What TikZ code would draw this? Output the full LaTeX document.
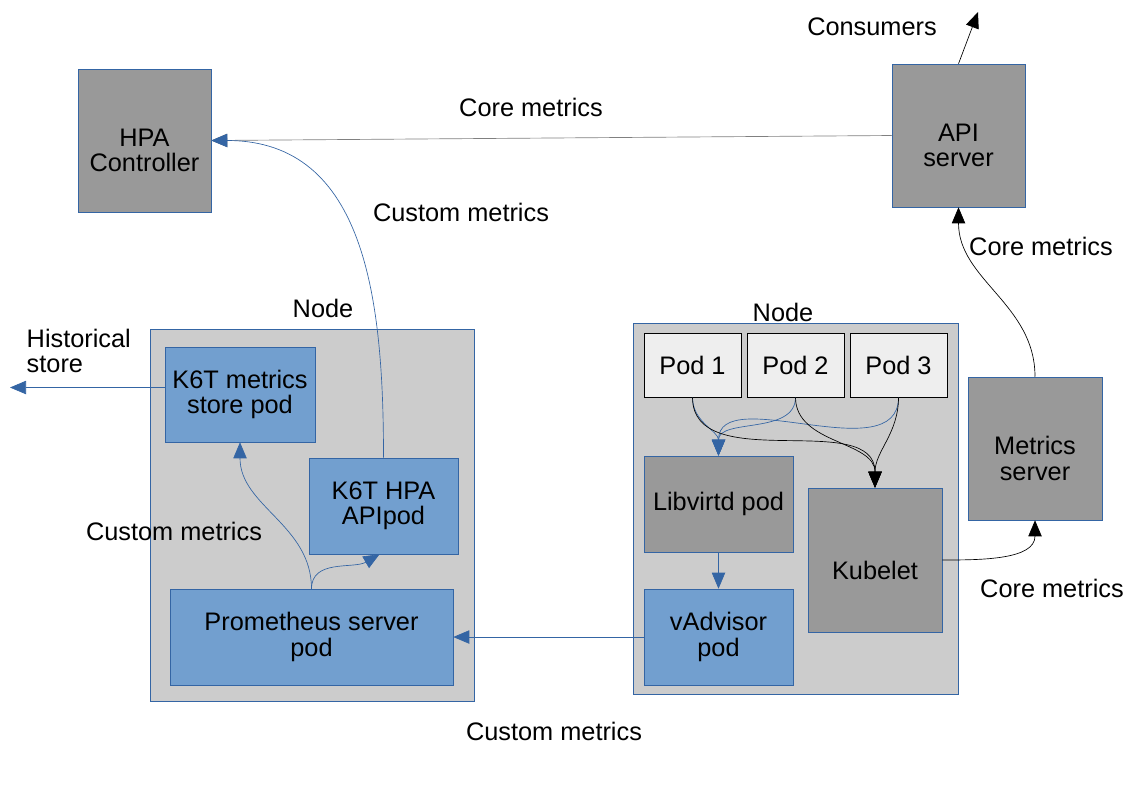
\documentclass[tikz,border=0pt]{standalone}
\usepackage{fontspec}
\setmainfont{Liberation Sans}
\usetikzlibrary{arrows.meta}
\definecolor{boxgray}{HTML}{999999}
\definecolor{nodegray}{HTML}{CCCCCC}
\definecolor{podfill}{HTML}{EEEEEE}
\definecolor{podblue}{HTML}{729FCF}
\definecolor{edgeblue}{HTML}{3465A4}

\begin{document}
\begin{tikzpicture}[x=0.75pt,y=-0.75pt,
    every node/.style={font=\fontsize{19}{19}\selectfont},
    graybox/.style={draw=edgeblue,fill=boxgray,align=center},
    bluebox/.style={draw=edgeblue,fill=podblue,align=center},
    nodebox/.style={draw=edgeblue,fill=nodegray},
    podbox/.style={draw=black,fill=podfill,minimum width=72.75pt,minimum height=48pt},
    boxtext/.style={align=center,yshift=-7.5pt},
    bluearrow/.style={draw=edgeblue,line width=0.5pt,-{Triangle[length=12pt,width=10pt]}},
    blackarrow/.style={draw=black,line width=0.5pt,-{Triangle[length=12pt,width=10pt]}}]
\useasboundingbox[fill=white] (0,0) rectangle (1123,794);

% the two nodes
\node[nodebox,minimum width=243pt,minimum height=279pt] (nodeL) at (312,515) {};
\node[nodebox,minimum width=243.75pt,minimum height=278.25pt] (nodeR) at (795.5,508.5) {};
\node (nodeLlabel) at (323,308) {Node};
\node (nodeRlabel) at (783,312) {Node};

% control plane
\node[graybox,minimum width=99.75pt,minimum height=107.25pt] (hpa) at (144.5,140.5) {};
\node[boxtext] (hpatext) at (hpa.center) {HPA\\Controller};
\node[graybox,minimum width=99.75pt,minimum height=107.25pt] (api) at (958.5,135.5) {};
\node[boxtext] (apitext) at (api.center) {API\\server};
\node[graybox,minimum width=100.5pt,minimum height=107.25pt] (msrv) at (1035,448.5) {};
\node[boxtext] (msrvtext) at (msrv.center) {Metrics\\server};

% left node
\node[bluebox,minimum width=112.5pt,minimum height=71.25pt] (store) at (240,394.5) {K6T metrics\\store pod};
\node[bluebox,minimum width=111.75pt,minimum height=72pt] (hpaapi) at (383.5,506) {K6T HPA\\APIpod};
\node[bluebox,minimum width=212.25pt,minimum height=72pt] (prom) at (311.5,637) {Prometheus server\\pod};

% right node
\node[podbox] (pod1) at (692.5,365) {Pod 1};
\node[podbox] (pod2) at (795.5,365) {Pod 2};
\node[podbox] (pod3) at (898.5,365) {Pod 3};
\node[graybox,minimum width=111.75pt,minimum height=72pt] (lib) at (718.5,504) {Libvirtd pod};
\node[bluebox,minimum width=111.75pt,minimum height=72pt] (vadv) at (718.5,637) {vAdvisor\\pod};
\node[graybox,minimum width=100.5pt,minimum height=108pt] (kubelet) at (875,560) {};
\node[boxtext] (kubelettext) at (kubelet.center) {Kubelet};

% free ends
\coordinate (consumers) at (978,12);
\coordinate (hist) at (10,387.5);

% labels
\node (consumerslabel) at (872,27) {Consumers};
\node (corelabelA) at (531,107) {Core metrics};
\node (customlabelA) at (461,212) {Custom metrics};
\node (corelabelB) at (1041,246) {Core metrics};
\node (customlabelB) at (174,531) {Custom metrics};
\node (corelabelC) at (1052,588) {Core metrics};
\node (customlabelC) at (554,731) {Custom metrics};
\node[anchor=west,align=left] (histlabel) at (22,351) {Historical\\store};

% connectors
\draw[blackarrow,draw=gray] (api.west) -- (hpa.east);
\draw[bluearrow] (hpaapi.north) to[out=90,in=0,looseness=1.1] (hpa.east);
\draw[blackarrow] (api.north) -- (consumers);
\draw[blackarrow] (msrv.north) to[out=90,in=-90] (api.south);
\draw[blackarrow] (kubelet.east) to[out=0,in=-90] (msrv.south);
\draw[bluearrow] ([yshift=5.25pt]store.west) -- (hist);
\draw[bluearrow] (prom.north) to[out=90,in=-90] (store.south);
\draw[bluearrow] (prom.north) to[out=90,in=-150] ([xshift=-3pt]hpaapi.south);
\draw[bluearrow] (vadv.west) -- (prom.east);
\draw[bluearrow] (lib.south) -- (vadv.north);
\draw[bluearrow] (pod1.south) to[out=-90,in=90] (lib.north);
\draw[bluearrow] (pod2.south) to[out=-90,in=90] (lib.north);
\draw[bluearrow] (pod3.south) to[out=-90,in=90] (lib.north);
\draw[blackarrow] (pod1.south) to[out=-90,in=90] (kubelet.north);
\draw[blackarrow] (pod2.south) to[out=-90,in=90] (kubelet.north);
\draw[blackarrow] (pod3.south) to[out=-90,in=90] (kubelet.north);
\end{tikzpicture}
\end{document}
